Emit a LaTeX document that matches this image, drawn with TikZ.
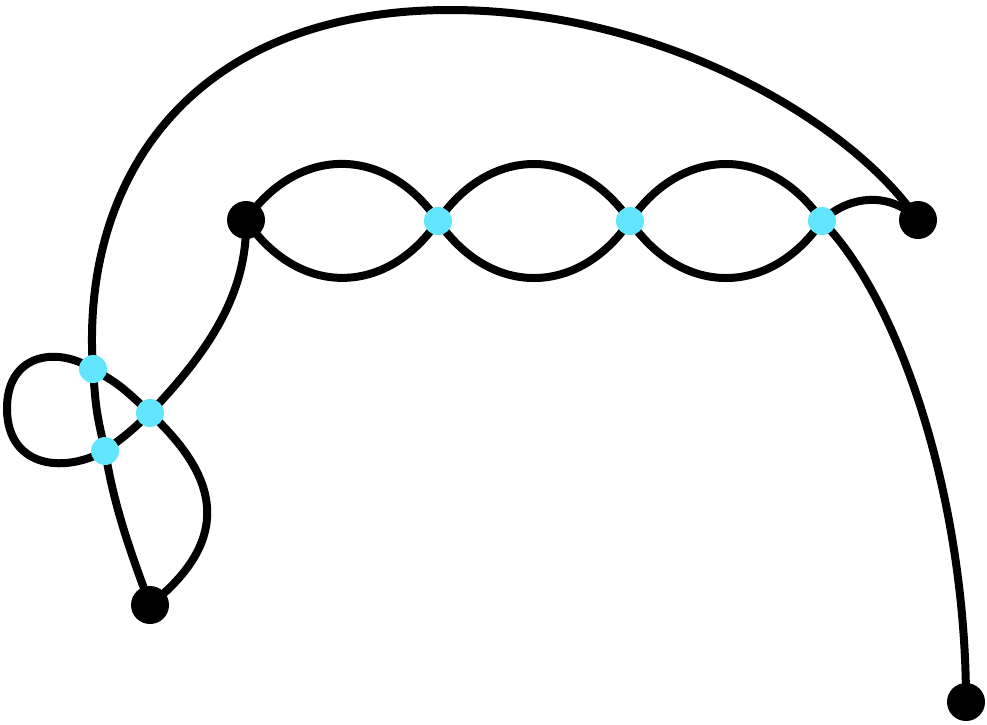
\documentclass[tikz,border=0pt]{standalone}
\definecolor{cyandot}{HTML}{62E5FE}
\begin{document}
\begin{tikzpicture}[x=1pt,y=-1pt,
  edge/.style={line width=8pt,line cap=round,black},
  bdot/.style={circle,fill=black,inner sep=0pt,minimum size=38pt},
  cdot/.style={circle,fill=cyandot,inner sep=0pt,minimum size=28pt}]
\useasboundingbox (0,0) rectangle (987,724);
\coordinate (A) at (246,220);
\coordinate (B) at (918,220);
\coordinate (C) at (150,605);
\coordinate (D) at (966,702);
\coordinate (P1) at (438,221);
\coordinate (P2) at (630,221);
\coordinate (P3) at (822,221);
\coordinate (Q1) at (93,369);
\coordinate (Q2) at (150,413);
\coordinate (Q3) at (105,451);
\coordinate (T) at (450,10);
\coordinate (L) at (7,410);
% lenses
\draw[edge] (A) .. controls (298,145) and (386,145) .. (P1);
\draw[edge] (A) .. controls (298,297) and (386,297) .. (P1);
\draw[edge] (P1) .. controls (490,145) and (578,145) .. (P2);
\draw[edge] (P1) .. controls (490,297) and (578,297) .. (P2);
\draw[edge] (P2) .. controls (682,145) and (770,145) .. (P3);
\draw[edge] (P2) .. controls (682,297) and (770,297) .. (P3);
% right edges
\draw[edge] (P3) .. controls (850,194) and (892,192) .. (B);
\draw[edge] (P3) .. controls (900,300) and (966,500) .. (D);
% big arc
\draw[edge] (B) .. controls (850,120) and (660,10) .. (T)
  .. controls (190,10) and (80,180) .. (Q1);
\draw[edge] (Q1) .. controls (96,410) .. (Q3);
\draw[edge] (Q3) .. controls (115,510) and (130,550) .. (C);
% loop path
\draw[edge] (A) .. controls (248,300) and (200,360) .. (Q2);
\draw[edge] (Q2) .. controls (130,432) .. (Q3);
\draw[edge] (Q3) .. controls (60,475) and (8,465) .. (L)
  .. controls (6,355) and (55,345) .. (Q1);
\draw[edge] (Q1) .. controls (120,385) .. (Q2);
\draw[edge] (Q2) .. controls (205,465) and (245,530) .. (C);
% nodes
\node[bdot] (a) at (A) {};
\node[bdot] (b) at (B) {};
\node[bdot] (c) at (C) {};
\node[bdot] (d) at (D) {};
\node[cdot] (p1) at (P1) {};
\node[cdot] (p2) at (P2) {};
\node[cdot] (p3) at (P3) {};
\node[cdot] (q1) at (Q1) {};
\node[cdot] (q2) at (Q2) {};
\node[cdot] (q3) at (Q3) {};
\end{tikzpicture}
\end{document}
